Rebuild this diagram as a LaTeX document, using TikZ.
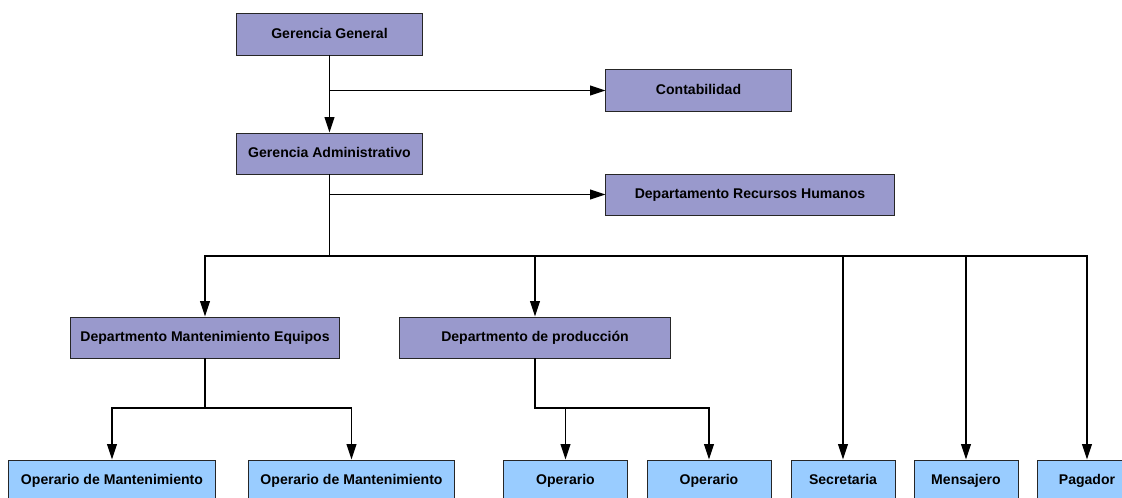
\documentclass[tikz,border=0pt]{standalone}
\usepackage{fontspec}
\setmainfont{Liberation Sans}
\usetikzlibrary{arrows.meta}
\begin{document}
\begin{tikzpicture}[x=0.025cm,y=-0.025cm]
      \newcommand{\boxh}[0]{1.025cm}

      \definecolor{boxpurple}{RGB}{153,153,204}
      \definecolor{boxblue}{RGB}{153,204,255}

      \tikzstyle{unit}=[
        draw=black!85,
        fill=boxpurple,
        minimum height=\boxh,
        inner sep=0pt,
        text height=7.2pt,
        text depth=2pt,
        anchor=center,
        line width=0.7pt,
        font=\fontsize{10}{12}\selectfont\bfseries
      ]
      \tikzstyle{staff}=[unit, fill=boxblue]
      \tikzstyle{arrow} = [line width=1.05pt,-{Triangle[length=11pt,width=7pt]}, draw=black]
      \tikzstyle{line} = [line width=1.05pt, draw=black]

      \useasboundingbox (0,0) rectangle (1122,498);
      \clip (0,0) rectangle (1122,498);

      \node[unit, minimum width=4.625cm] (gg)   at (329.5, 34.5)  {Gerencia General};
      \node[unit, minimum width=4.625cm] (cont) at (698.5, 90.5)  {Contabilidad};
      \node[unit, minimum width=4.625cm] (ga)   at (329.5, 153.5) {Gerencia Administrativo};
      \node[unit, minimum width=7.2cm]   (rrhh) at (750, 194.5)   {Departamento Recursos Humanos};
      \node[unit, minimum width=6.7cm]   (dme)  at (205, 337.5)   {Departmento Mantenimiento Equipos};
      \node[unit, minimum width=6.75cm]  (dp)   at (535, 337.5)   {Departmento de producción};

      \node[staff, minimum width=5.15cm] (om1)  at (112, 480.5)   {Operario de Mantenimiento};
      \node[staff, minimum width=5.15cm] (om2)  at (351.5, 480.5) {Operario de Mantenimiento};
      \node[staff, minimum width=3.1cm]  (op1)  at (565.5, 480.5) {Operario};
      \node[staff, minimum width=3.1cm]  (op2)  at (709, 480.5)   {Operario};
      \node[staff, minimum width=2.6cm]  (sec)  at (843, 480.5)   {Secretaria};
      \node[staff, minimum width=2.6cm]  (men)  at (966, 480.5)   {Mensajero};
      \node[staff, minimum width=2.5cm]  (pag)  at (1087, 480.5)  {Pagador};

      \coordinate (bus)  at (329.5, 256);
      \coordinate (mbus) at (205, 408);
      \coordinate (pbus) at (535, 408);

      \draw[arrow] (gg) -- (ga);
      \draw[arrow] (gg |- cont) -- (cont);
      \draw[arrow] (ga |- rrhh) -- (rrhh);
      \draw[line] (ga) -- (bus);
      \draw[arrow] (bus) -| (dme);
      \draw[arrow] (bus) -| (pag);
      \draw[arrow] (dp |- bus) -- (dp);
      \draw[arrow] (sec |- bus) -- (sec);
      \draw[arrow] (men |- bus) -- (men);
      \draw[arrow] (dme) -- (mbus) -| (om1);
      \draw[arrow] (mbus) -| (om2);
      \draw[arrow] (dp) -- (pbus) -| (op2);
      \draw[arrow] (op1 |- pbus) -- (op1);
    \end{tikzpicture}
\end{document}
